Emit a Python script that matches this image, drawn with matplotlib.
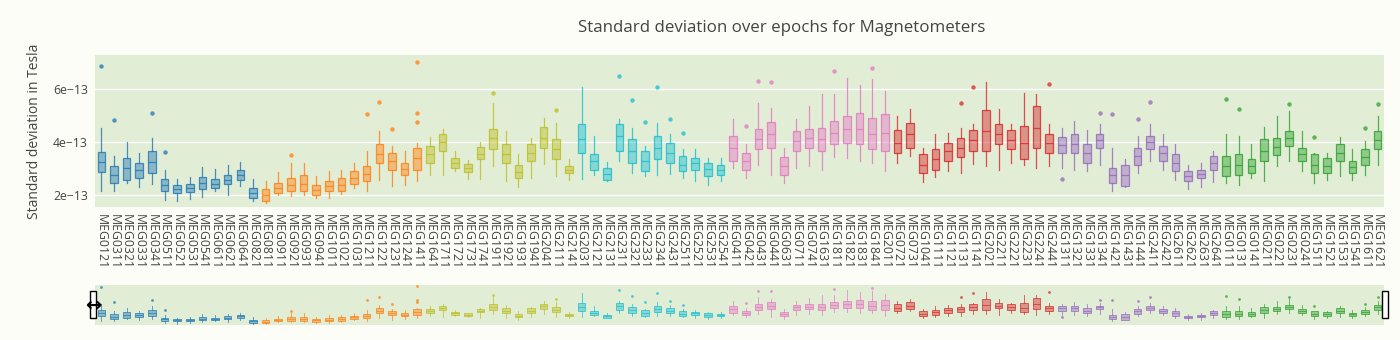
import matplotlib

matplotlib.use("Agg")
import matplotlib.pyplot as plt
from matplotlib.colors import to_rgba
from matplotlib.patches import Rectangle
from matplotlib.ticker import FuncFormatter

plt.rcParams["font.family"] = ["Open Sans", "DejaVu Sans"]

# sensor names, in plotting order, one list per lobe group
group_names = [
    ["MEG0121", "MEG0311", "MEG0321", "MEG0331", "MEG0341", "MEG0511", "MEG0521",
     "MEG0531", "MEG0541", "MEG0611", "MEG0621", "MEG0641", "MEG0821"],
    ["MEG0811", "MEG0911", "MEG0921", "MEG0931", "MEG0941", "MEG1011", "MEG1021",
     "MEG1031", "MEG1211", "MEG1221", "MEG1231", "MEG1241", "MEG1411"],
    ["MEG1641", "MEG1711", "MEG1721", "MEG1731", "MEG1741", "MEG1911", "MEG1921",
     "MEG1931", "MEG1941", "MEG2041", "MEG2111", "MEG2141"],
    ["MEG2031", "MEG2121", "MEG2131", "MEG2311", "MEG2321", "MEG2331", "MEG2341",
     "MEG2431", "MEG2511", "MEG2521", "MEG2531", "MEG2541"],
    ["MEG0411", "MEG0421", "MEG0431", "MEG0441", "MEG0631", "MEG0711", "MEG0741",
     "MEG1631", "MEG1811", "MEG1821", "MEG1831", "MEG1841", "MEG2011"],
    ["MEG0721", "MEG0731", "MEG1041", "MEG1111", "MEG1121", "MEG1131", "MEG1141",
     "MEG2021", "MEG2211", "MEG2221", "MEG2231", "MEG2241", "MEG2441"],
    ["MEG1311", "MEG1321", "MEG1331", "MEG1341", "MEG1421", "MEG1431", "MEG1441",
     "MEG2411", "MEG2421", "MEG2611", "MEG2621", "MEG2631", "MEG2641"],
    ["MEG0111", "MEG0131", "MEG0141", "MEG0211", "MEG0221", "MEG0231", "MEG0241",
     "MEG1511", "MEG1521", "MEG1531", "MEG1541", "MEG1611", "MEG1621"],
]
group_colors = ["#1f77b4", "#ff7f0e", "#bcbd22", "#17becf",
                "#e377c2", "#d62728", "#9467bd", "#2ca02c"]

# box statistics, in units of 1e-13 T
whis_lo = [2.15, 2.15, 2.45, 2.29, 2.41, 1.81, 1.75, 1.83, 1.91, 2.13, 2.00, 2.32, 1.75,
           1.68, 2.00, 1.94, 2.00, 1.87, 1.87, 2.03, 2.25, 2.13, 2.57, 2.32, 2.38, 2.51,
           2.76, 2.74, 2.89, 2.61, 2.60, 3.08, 2.51, 2.28, 2.64, 3.17, 2.70, 2.57,
           2.61, 2.76, 2.51, 3.27, 2.83, 2.70, 2.76, 2.80, 2.64, 2.51, 2.38, 2.54,
           3.02, 2.64, 3.15, 2.74, 2.45, 3.02, 3.08, 2.96, 3.43, 3.38, 3.30, 3.21, 2.89,
           3.21, 3.46, 2.48, 2.66, 2.89, 2.83, 3.17, 3.08, 2.96, 3.21, 3.15, 3.02, 3.08,
           3.02, 2.96, 2.89, 3.12, 2.15, 2.28, 2.83, 3.27, 2.96, 2.57, 2.23, 2.28, 2.48,
           2.45, 2.38, 2.64, 2.51, 3.08, 3.27, 2.92, 2.45, 2.57, 2.70, 2.57, 2.76, 3.15]
q1 = [2.87, 2.45, 2.57, 2.64, 2.83, 2.13, 2.06, 2.10, 2.22, 2.25, 2.41, 2.57, 1.87,
      1.78, 2.06, 2.13, 2.13, 2.00, 2.13, 2.13, 2.41, 2.51, 3.21, 2.96, 2.76, 2.96,
      3.21, 3.66, 3.02, 2.87, 3.34, 3.72, 3.21, 2.64, 3.27, 3.78, 3.34, 2.83,
      3.59, 2.96, 2.57, 3.66, 3.21, 2.89, 3.34, 3.21, 2.89, 2.96, 2.70, 2.76,
      3.27, 2.96, 3.72, 3.78, 2.76, 3.66, 3.78, 3.66, 3.91, 3.97, 3.91, 3.72, 3.66,
      3.59, 3.78, 2.83, 2.96, 3.27, 3.43, 3.68, 3.66, 3.91, 3.72, 3.34, 3.78, 3.59,
      3.59, 3.59, 3.21, 3.78, 2.45, 2.32, 3.15, 3.72, 3.27, 2.89, 2.51, 2.64, 2.96,
      2.70, 2.76, 2.83, 3.27, 3.50, 3.85, 3.27, 2.83, 2.83, 3.27, 2.83, 3.15, 3.72]
median = [3.24, 2.74, 3.02, 2.96, 3.25, 2.38, 2.22, 2.25, 2.45, 2.41, 2.57, 2.76, 2.06,
          2.00, 2.25, 2.38, 2.41, 2.19, 2.32, 2.38, 2.64, 2.79, 3.53, 3.27, 2.99, 3.38,
          3.53, 4.01, 3.21, 3.02, 3.53, 4.14, 3.53, 2.87, 3.59, 4.17, 3.72, 2.96,
          4.10, 3.27, 2.79, 4.23, 3.66, 3.27, 3.78, 3.59, 3.15, 3.21, 2.99, 2.96,
          3.78, 3.27, 4.10, 4.29, 3.08, 4.04, 4.14, 4.10, 4.36, 4.48, 4.48, 4.29, 4.36,
          3.97, 4.29, 3.15, 3.34, 3.66, 3.78, 4.06, 4.42, 4.29, 4.06, 3.97, 4.55, 3.97,
          3.89, 3.94, 3.59, 4.06, 2.74, 2.74, 3.46, 4.01, 3.59, 3.21, 2.70, 2.80, 3.21,
          3.08, 3.15, 3.08, 3.68, 3.81, 4.14, 3.53, 3.15, 3.08, 3.59, 3.04, 3.43, 4.06]
q3 = [3.62, 3.08, 3.40, 3.21, 3.66, 2.60, 2.38, 2.42, 2.68, 2.60, 2.76, 2.96, 2.25,
      2.23, 2.45, 2.64, 2.74, 2.38, 2.51, 2.64, 2.89, 3.08, 3.91, 3.59, 3.21, 3.78,
      3.85, 4.29, 3.40, 3.18, 3.81, 4.48, 3.91, 3.15, 3.91, 4.57, 4.10, 3.08,
      4.67, 3.53, 3.02, 4.67, 4.10, 3.66, 4.23, 3.97, 3.46, 3.40, 3.21, 3.15,
      4.23, 3.59, 4.48, 4.76, 3.43, 4.42, 4.48, 4.55, 4.80, 4.99, 5.12, 4.93, 5.06,
      4.45, 4.74, 3.53, 3.72, 3.97, 4.14, 4.46, 5.21, 4.67, 4.46, 4.61, 5.38, 4.29,
      4.19, 4.29, 3.91, 4.29, 3.02, 3.15, 3.78, 4.23, 3.85, 3.53, 2.89, 2.96, 3.46,
      3.46, 3.53, 3.34, 4.10, 4.14, 4.42, 3.78, 3.53, 3.40, 3.91, 3.27, 3.72, 4.42]
whis_hi = [4.52, 3.46, 4.01, 3.59, 4.17, 2.96, 2.60, 2.68, 3.04, 2.99, 3.15, 3.24, 2.61,
           2.53, 2.87, 3.21, 3.21, 2.70, 2.92, 2.96, 3.21, 3.68, 4.42, 3.85, 3.66, 3.95,
           4.19, 4.48, 3.66, 3.31, 4.01, 5.48, 4.42, 3.55, 4.14, 4.93, 4.74, 3.34,
           6.10, 4.23, 3.25, 4.87, 4.52, 3.85, 4.74, 4.32, 3.75, 3.72, 3.40, 3.40,
           4.87, 3.94, 5.48, 5.29, 3.78, 4.87, 5.38, 5.82, 5.82, 6.43, 6.17, 6.39, 5.92,
           4.99, 5.25, 3.78, 4.29, 4.36, 4.55, 4.67, 6.27, 5.25, 4.67, 5.85, 5.82, 4.70,
           4.52, 4.80, 4.45, 4.67, 3.76, 3.34, 4.23, 4.70, 4.29, 3.91, 3.15, 3.21, 3.66,
           4.29, 4.23, 3.91, 4.57, 4.99, 5.18, 4.42, 3.59, 3.59, 4.19, 3.72, 4.04, 4.99]
outliers = [[6.88], [4.83], [], [], [5.10], [3.62], [], [], [], [], [], [], [],
            [], [], [3.50], [], [], [], [], [], [5.06], [5.50], [4.48], [], [4.76, 5.12, 7.03],
            [], [], [], [], [], [5.85], [], [], [], [], [5.22], [],
            [], [], [], [6.52], [5.59], [4.76], [6.10], [4.87], [4.36], [], [], [],
            [], [4.61], [6.33], [6.29], [], [], [], [], [6.69], [], [], [6.82], [],
            [], [], [], [], [], [5.48], [6.10], [], [], [], [], [], [6.20],
            [2.61], [], [], [5.10], [5.08], [], [4.87], [5.50], [], [], [], [], [],
            [5.63], [5.25], [], [], [], [5.44], [], [4.19], [], [], [], [4.55], [5.44]]

W, H = 1400, 340
PLOT_BG = "#e2edd6"
PAPER_BG = "#fdfdf7"
TEXT = "#444444"
SCALE = 1e-13


def draw_boxes(ax, lw, ms):
    labels = []
    start = 0
    for names, color in zip(group_names, group_colors):
        stats = []
        for i in range(start, start + len(names)):
            stats.append({
                "whislo": whis_lo[i] * SCALE,
                "q1": q1[i] * SCALE,
                "med": median[i] * SCALE,
                "q3": q3[i] * SCALE,
                "whishi": whis_hi[i] * SCALE,
                "fliers": [v * SCALE for v in outliers[i]],
            })
        positions = list(range(start, start + len(names)))
        edge = to_rgba(color, 0.8)
        ax.bxp(
            stats,
            positions=positions,
            widths=0.6,
            showcaps=False,
            patch_artist=True,
            boxprops=dict(facecolor=to_rgba(color, 0.45), edgecolor=edge, linewidth=lw),
            whiskerprops=dict(color=edge, linewidth=lw),
            medianprops=dict(color=edge, linewidth=lw),
            flierprops=dict(marker="o", markerfacecolor=color, markeredgecolor="none",
                            markersize=ms, alpha=0.75),
            manage_ticks=False,
        )
        labels += names
        start += len(names)
    return labels


fig = plt.figure(figsize=(W / 100, H / 100), dpi=100)
fig.patch.set_facecolor(PAPER_BG)

ax = fig.add_axes([95 / W, 1 - 207 / H, 1289 / W, 152 / H])
ax.set_facecolor(PLOT_BG)
labels = draw_boxes(ax, 0.9, 3.2)
n = len(labels)
ax.set_xlim(-0.5, n - 0.5)
ax.set_ylim(1.54e-13, 7.3e-13)
ax.set_yticks([2e-13, 4e-13, 6e-13])
ax.yaxis.set_major_formatter(FuncFormatter(lambda v, p: f"{v / SCALE:.0f}e\u221213"))
ax.grid(axis="y", color="white", linewidth=1)
ax.set_axisbelow(True)
ax.set_xticks(range(n))
ax.set_xticklabels(labels, rotation=-90, fontsize=8.8, color=TEXT)
ax.tick_params(axis="both", length=0, pad=5, labelsize=8.8, labelcolor=TEXT)
for spine in ax.spines.values():
    spine.set_visible(False)
ax.set_ylabel("Standard deviation in Tesla", fontsize=10, color=TEXT, labelpad=8)

fig.text(782 / W, 1 - 28 / H, "Standard deviation over epochs for Magnetometers",
         ha="center", va="center", fontsize=12.2, color=TEXT)

# range slider preview
sl = fig.add_axes([95 / W, 1 - 325 / H, 1289 / W, 40 / H])
sl.set_facecolor(PLOT_BG)
draw_boxes(sl, 0.6, 2.0)
sl.set_xlim(-0.5, n - 0.5)
sl.set_ylim(1.55e-13, 7.2e-13)
sl.set_xticks([])
sl.set_yticks([])
for spine in sl.spines.values():
    spine.set_visible(False)

for hx in (93, 1385):
    fig.patches.append(Rectangle((hx / W - 3 / W, 1 - 318 / H), 6 / W, 27 / H,
                                 transform=fig.transFigure, facecolor="white",
                                 edgecolor="black", linewidth=1))
fig.text(93 / W, 1 - 305 / H, "\u2194", ha="center", va="center", fontsize=14,
         fontweight="bold", color="black", family="DejaVu Sans")

fig.savefig("out.png", dpi=100, facecolor=fig.get_facecolor())
